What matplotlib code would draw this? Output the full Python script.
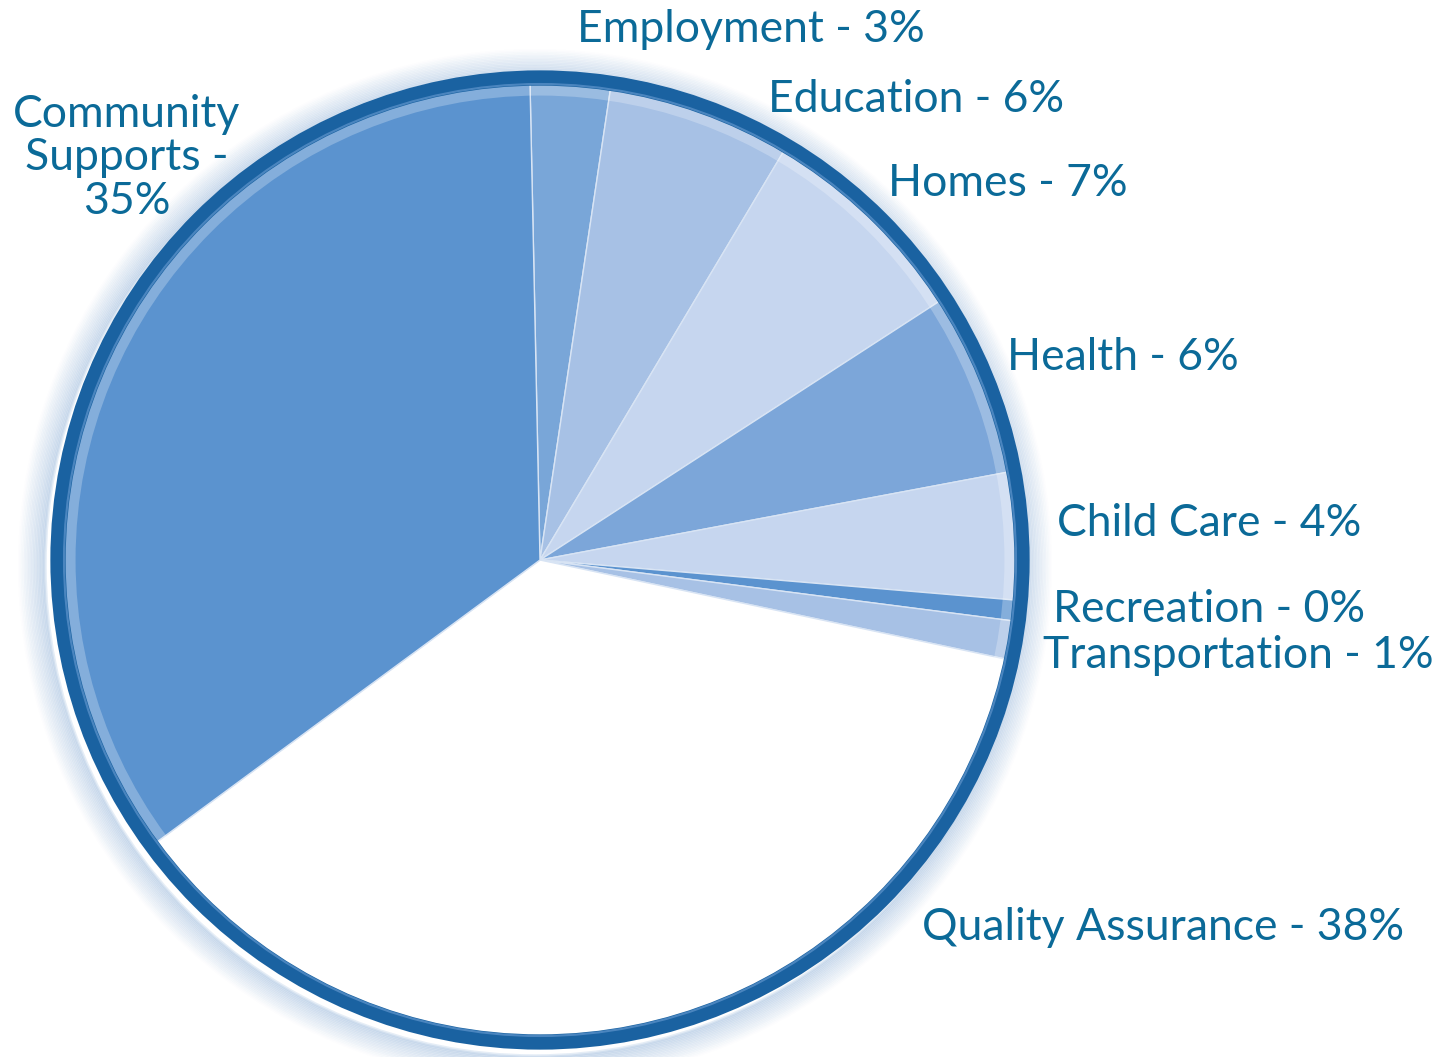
import matplotlib; matplotlib.use("Agg")
import matplotlib.pyplot as plt
from matplotlib.patches import Circle

# slice shares as drawn (clockwise from top)
categories = ["Employment", "Education", "Homes", "Health", "Child Care",
              "Recreation", "Transportation", "Quality Assurance", "Community Supports"]
shares = [2.7, 6.2, 7.3, 6.2, 4.3, 0.7, 1.3, 36.6, 34.8]
pct_labels = ["3%", "6%", "7%", "6%", "4%", "0%", "1%", "38%", "35%"]
colors = ["#79a6d8", "#a7c1e5", "#c6d6ef", "#7ca6d9", "#c6d6ef",
          "#5b93cf", "#a7c1e5", "#ffffff", "#5b93cf"]

W, H = 1448, 1057
fig = plt.figure(figsize=(W/100, H/100), dpi=100)
ax = fig.add_axes([0, 0, 1, 1])

cx, cy, R = 540, H - 560, 486

# soft glow outside the rim (stronger toward lower left)
for i in range(18):
    ax.add_patch(Circle((cx - 5, cy - 6), R + 4 + i * 1.5, fill=False,
                        ec="#2f6fb8", lw=2.5, alpha=0.12 * (1 - i / 18), zorder=1))

ax.pie(shares, colors=colors, startangle=91.2, counterclock=False,
       center=(cx, cy), radius=R, frame=True,
       wedgeprops=dict(linewidth=1.0, edgecolor="#d8e4f4"))
ax.set_xlim(0, W); ax.set_ylim(0, H)
ax.set_aspect("equal"); ax.axis("off")

# inner light band and rim
ax.add_patch(Circle((cx, cy), R - 16, fill=False, ec="white", lw=8, alpha=0.25, zorder=4))
ax.add_patch(Circle((cx, cy), R - 4, fill=False, ec="#1a62a1", lw=11, zorder=5))
ax.add_patch(Circle((cx, cy), R - 10, fill=False, ec="#5f95cc", lw=1.5, alpha=0.7, zorder=6))

tc = "#0b6a98"
fs = 32
font = dict(family="Lato", weight="normal")
pos = [(577, 30), (768, 100), (888, 183), (1007, 358), (1057, 523),
       (1053, 610), (1043, 656), (922, 928)]
for (x, y), name, p in zip(pos, categories[:8], pct_labels[:8]):
    ax.text(x, H - y, f"{name} - {p}", color=tc, fontsize=fs,
            ha="left", va="center", zorder=10, **font)
ax.text(127, H - 158, f"Community\nSupports -\n{pct_labels[8]}", color=tc,
        fontsize=fs, ha="center", va="center", linespacing=1.08, zorder=10, **font)

fig.savefig("out.png", dpi=100)
